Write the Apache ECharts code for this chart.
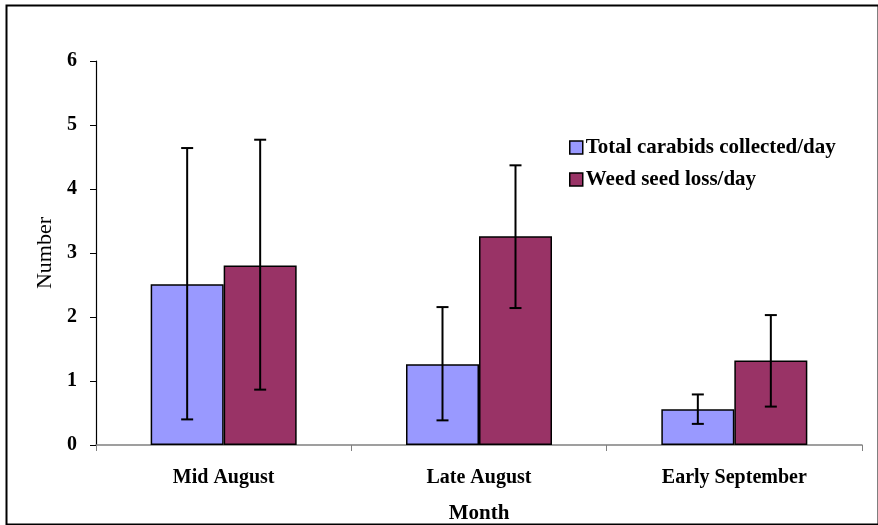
<!DOCTYPE html>
<html>
<head>
<meta charset="utf-8">
<script src="https://cdn.jsdelivr.net/npm/echarts@6/dist/echarts.min.js"></script>
<style>
html,body{margin:0;padding:0;background:#fff;}
#chart{width:878px;height:525px;}
</style>
</head>
<body>
<div id="chart"></div>
<script>
var categories = ['Mid August', 'Late August', 'Early September'];
var carabids = [2.51, 1.26, 0.56];
var carabidsLow = [0.40, 0.385, 0.33];
var carabidsHigh = [4.64, 2.155, 0.79];
var seedLoss = [2.805, 3.26, 1.32];
var seedLow = [0.865, 2.14, 0.60];
var seedHigh = [4.77, 4.37, 2.03];
var yTicks = [0, 1, 2, 3, 4, 5, 6];

var FONT = '"Liberation Serif", "Times New Roman", serif';
var BAR_W = 73;

function errSeries(name, low, high, offset) {
  return {
    type: 'custom',
    name: name + ' err',
    z: 10,
    silent: true,
    data: categories.map(function (c, i) { return [i, low[i], high[i]]; }),
    encode: { x: 0, y: [1, 2] },
    renderItem: function (params, api) {
      var lo = api.coord([api.value(0), api.value(1)]);
      var hi = api.coord([api.value(0), api.value(2)]);
      var x = lo[0] + offset;
      var cap = 6;
      var st = { stroke: '#000', lineWidth: 2 };
      return {
        type: 'group',
        children: [
          { type: 'line', shape: { x1: x, y1: lo[1], x2: x, y2: hi[1] }, style: st },
          { type: 'line', shape: { x1: x - cap, y1: lo[1], x2: x + cap, y2: lo[1] }, style: st },
          { type: 'line', shape: { x1: x - cap, y1: hi[1], x2: x + cap, y2: hi[1] }, style: st }
        ]
      };
    }
  };
}

var chart = echarts.init(document.getElementById('chart'), null, { renderer: 'canvas' });
chart.setOption({
  animation: false,
  backgroundColor: '#fff',
  textStyle: { fontFamily: FONT },
  graphic: [{
    type: 'rect', left: 4, top: 3, z: -1,
    shape: { width: 872, height: 519 },
    style: { fill: 'none', stroke: '#000', lineWidth: 2 }
  }],
  grid: { left: 96, right: 16, top: 61, bottom: 80, containLabel: false, outerBoundsMode: 'none' },
  legend: {
    orient: 'vertical',
    left: 564,
    top: 132,
    itemWidth: 13,
    itemHeight: 13,
    itemGap: 11,
    icon: 'rect',
    data: [
      { name: 'Total carabids collected/day', itemStyle: { borderColor: '#000', borderWidth: 1.5 } },
      { name: 'Weed seed loss/day', itemStyle: { borderColor: '#000', borderWidth: 1.5 } }
    ],
    textStyle: { fontFamily: FONT, fontSize: 21, fontWeight: 'bold', color: '#000', padding: [0, 0, 0, -2] }
  },
  xAxis: {
    type: 'category',
    data: categories,
    name: 'Month',
    nameLocation: 'middle',
    nameGap: 58,
    nameTextStyle: { fontFamily: FONT, fontSize: 21, fontWeight: 'bold', color: '#000' },
    axisLine: { lineStyle: { color: '#808080', width: 1.5 } },
    axisTick: { show: true, length: 6, lineStyle: { color: '#808080' } },
    axisLabel: { margin: 23, fontFamily: FONT, fontSize: 20, fontWeight: 'bold', color: '#000' },
    splitLine: { show: false }
  },
  yAxis: {
    type: 'value',
    min: yTicks[0],
    max: yTicks[yTicks.length - 1],
    interval: 1,
    name: 'Number',
    nameLocation: 'middle',
    nameGap: 39,
    nameRotate: 90,
    nameTextStyle: { fontFamily: FONT, fontSize: 22, color: '#000' },
    axisLine: { show: true, lineStyle: { color: '#000', width: 1.2 } },
    axisTick: { show: true, length: 6, lineStyle: { color: '#000' } },
    axisLabel: { margin: 19, fontFamily: FONT, fontSize: 20, fontWeight: 'bold', color: '#000' },
    splitLine: { show: false }
  },
  series: [
    {
      type: 'bar',
      name: 'Total carabids collected/day',
      data: carabids,
      barWidth: BAR_W,
      barGap: '0%',
      itemStyle: { color: '#9999FF', borderColor: '#000', borderWidth: 1.5 }
    },
    {
      type: 'bar',
      name: 'Weed seed loss/day',
      data: seedLoss,
      barWidth: BAR_W,
      barGap: '0%',
      itemStyle: { color: '#993366', borderColor: '#000', borderWidth: 1.5 }
    },
    errSeries('Total carabids collected/day', carabidsLow, carabidsHigh, -BAR_W / 2),
    errSeries('Weed seed loss/day', seedLow, seedHigh, BAR_W / 2)
  ]
});
</script>
</body>
</html>
